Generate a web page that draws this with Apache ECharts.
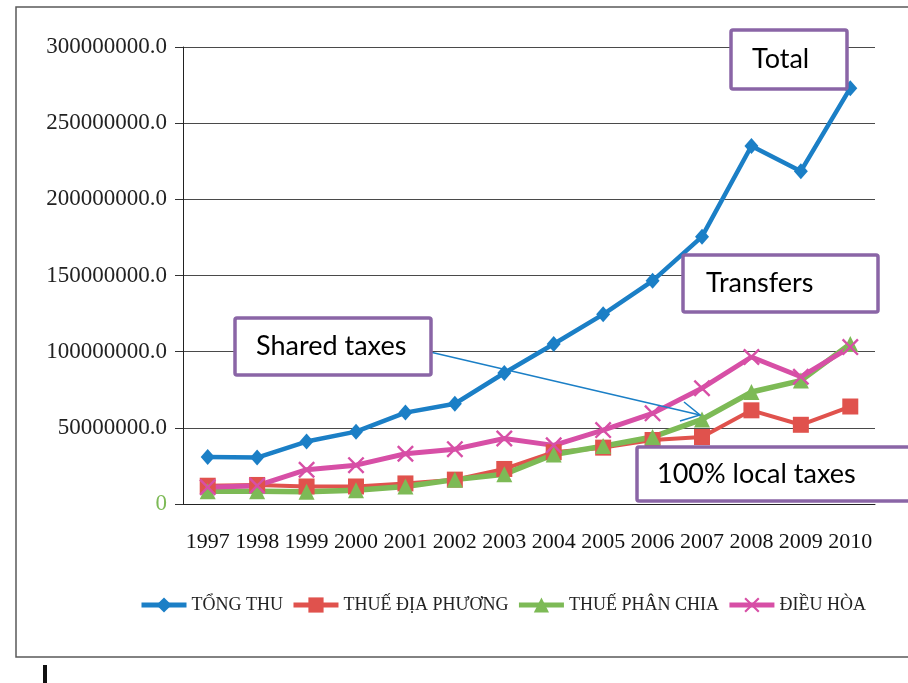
<!DOCTYPE html>
<html>
<head>
<meta charset="utf-8">
<script src="https://cdn.jsdelivr.net/npm/echarts@6/dist/echarts.min.js"></script>
<style>
  html, body { margin: 0; padding: 0; background: #fff; }
  #chart { width: 908px; height: 683px; }
</style>
</head>
<body>
<div id="chart"></div>
<script>
// data
const years = ["1997", "1998", "1999", "2000", "2001", "2002", "2003", "2004", "2005", "2006", "2007", "2008", "2009", "2010"];
const tongThu = [30900000, 30500000, 41000000, 47500000, 60000000, 65800000, 86000000, 105000000, 124500000, 146500000, 175500000, 235000000, 218500000, 273000000];
const thueDiaPhuong = [12000000, 12500000, 11500000, 11500000, 13500000, 16000000, 23000000, 34000000, 37000000, 42000000, 44000000, 61500000, 52000000, 64000000];
const thuePhanChia = [8300000, 8300000, 8000000, 9000000, 11500000, 16000000, 19500000, 32500000, 38000000, 44000000, 55500000, 73500000, 81000000, 105000000];
const dieuHoa = [11000000, 12000000, 22500000, 25500000, 33000000, 36000000, 43000000, 38500000, 48500000, 59500000, 76000000, 96500000, 83500000, 103000000];
const seriesNames = ["TỔNG THU", "THUẾ ĐỊA PHƯƠNG", "THUẾ PHÂN CHIA", "ĐIỀU HÒA"];

const serif = '"Liberation Serif", "DejaVu Serif", serif';
const boxFont = 'Lato, "Open Sans", sans-serif';
const purple = "#8a65a6";
const crossPath = "path://M0,1L1,0L5,4L9,0L10,1L6,5L10,9L9,10L5,6L1,10L0,9L4,5Z";

function box(x, y, w, h, label, tx) {
  return [
    {
      type: "rect", z: 100,
      shape: { x: x, y: y, width: w, height: h, r: 2 },
      style: { fill: "#fff", stroke: purple, lineWidth: 3.5 }
    },
    {
      type: "text", z: 101, x: tx, y: y + h / 2,
      style: { text: label, fill: "#000", font: "27px " + boxFont, textVerticalAlign: "middle" }
    }
  ];
}

const chart = echarts.init(document.getElementById("chart"));
chart.setOption({
  animation: false,
  backgroundColor: "#fff",
  grid: { left: 183, right: 33, top: 47, bottom: 179 },
  legend: {
    left: 139,
    top: 596,
    padding: 0,
    itemWidth: 45,
    itemHeight: 19,
    itemGap: 8,
    lineStyle: { width: 5 },
    textStyle: { fontFamily: serif, fontSize: 18, color: "#222" },
    data: seriesNames
  },
  xAxis: {
    type: "category",
    boundaryGap: true,
    data: years,
    axisLine: { lineStyle: { color: "#222", width: 1 } },
    axisTick: { show: false },
    axisLabel: { fontFamily: serif, fontSize: 22, color: "#111", margin: 27, interval: 0 }
  },
  yAxis: {
    type: "value",
    min: 0,
    max: 300000000,
    interval: 50000000,
    axisLine: { show: true, lineStyle: { color: "#222", width: 1 } },
    axisTick: { show: true, length: 8, lineStyle: { color: "#333" } },
    splitLine: { lineStyle: { color: "#4a4a4a", width: 1 } },
    axisLabel: {
      fontFamily: serif, fontSize: 23, color: "#222", margin: 16,
      formatter: function (v) { return v === 0 ? "{g|0}" : v.toFixed(1); },
      rich: { g: { color: "#7dba56", fontFamily: serif, fontSize: 23 } }
    }
  },
  series: [
    {
      name: seriesNames[0], type: "line", data: tongThu,
      symbol: "diamond", symbolSize: [14, 16],
      lineStyle: { width: 4.5, color: "#1b7fc6" },
      itemStyle: { color: "#1b7fc6" }
    },
    {
      name: seriesNames[1], type: "line", data: thueDiaPhuong,
      symbol: "rect", symbolSize: 16,
      lineStyle: { width: 4, color: "#e0524d" },
      itemStyle: { color: "#e0524d" }
    },
    {
      name: seriesNames[2], type: "line", data: thuePhanChia,
      symbol: "triangle", symbolSize: 16,
      lineStyle: { width: 5.5, color: "#7dba56" },
      itemStyle: { color: "#7dba56" }
    },
    {
      name: seriesNames[3], type: "line", data: dieuHoa,
      symbol: crossPath, symbolSize: 17,
      lineStyle: { width: 5, color: "#d74fa6" },
      itemStyle: { color: "#d74fa6" }
    }
  ],
  graphic: [
    // outer frame
    { type: "polyline", z: 50, shape: { points: [[908, 7], [16, 7], [16, 657], [908, 657]] },
      style: { fill: null, stroke: "#5a5a5a", lineWidth: 1.5 } },
    { type: "rect", z: 50, shape: { x: 43, y: 665, width: 4, height: 18 }, style: { fill: "#111" } },
    // arrow from "Shared taxes"
    { type: "line", z: 90, shape: { x1: 430, y1: 352, x2: 700, y2: 415 },
      style: { stroke: "#1b7fc6", lineWidth: 1.5 } },
    { type: "polyline", z: 90, shape: { points: [[684, 402], [700, 415], [680, 421]] },
      style: { fill: null, stroke: "#1b7fc6", lineWidth: 1.5 } }
  ]
    .concat(box(731, 30, 116, 59, "Total", 752))
    .concat(box(683, 255, 195, 57, "Transfers", 706))
    .concat(box(235, 318, 196, 57, "Shared taxes", 256))
    .concat(box(637, 447, 290, 54, "100% local taxes", 657))
});
</script>
</body>
</html>
